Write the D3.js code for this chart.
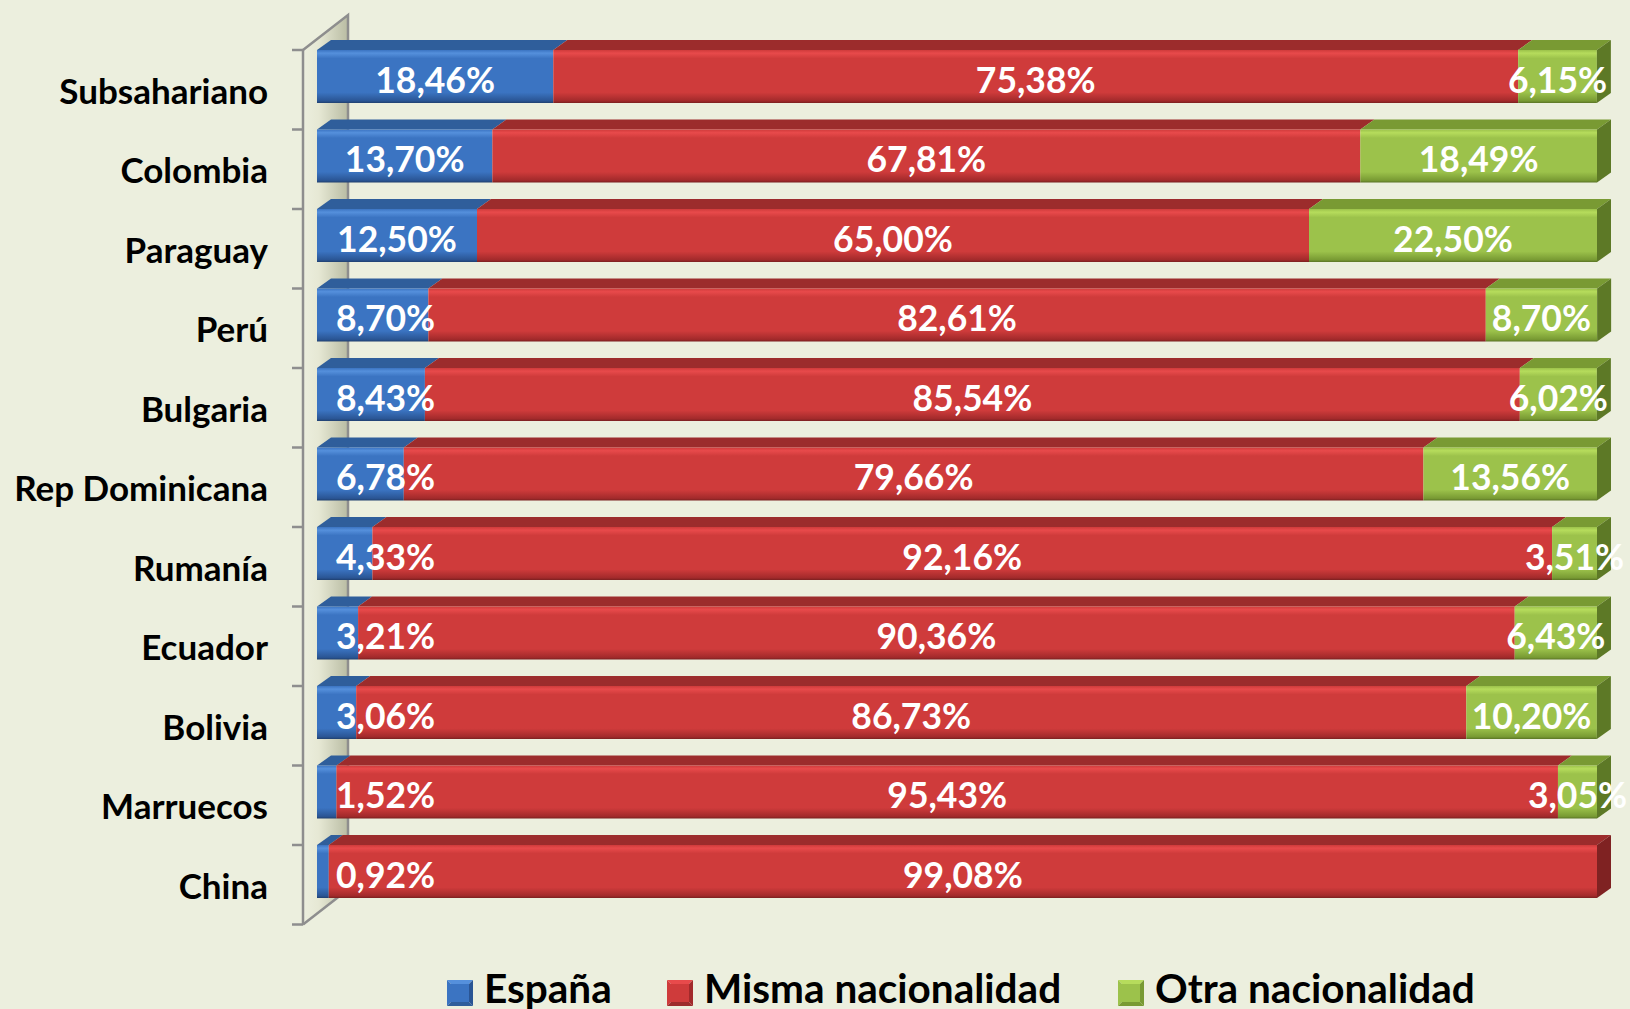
<!DOCTYPE html>
<html lang="es">
<head>
<meta charset="UTF-8">
<title>Nacionalidad de la pareja</title>
<script src="https://d3js.org/d3.v7.min.js"></script>
<style>
    body { margin: 0; background: #ECEFDE; }
    svg { display: block; font-family: Lato, "Open Sans", sans-serif; font-weight: 700; }
    .cat { font-size: 35px; fill: #000; }
    .val { font-size: 35.5px; fill: #fff; }
    .leg { font-size: 40.5px; fill: #000; }
</style>
</head>
<body>
<svg id="chart" width="1630" height="1009"></svg>
<script>
// data
const countries = ["Subsahariano", "Colombia", "Paraguay", "Perú", "Bulgaria", "Rep Dominicana",
    "Rumanía", "Ecuador", "Bolivia", "Marruecos", "China"];
const espana = [18.46, 13.70, 12.50, 8.70, 8.43, 6.78, 4.33, 3.21, 3.06, 1.52, 0.92];
const misma = [75.38, 67.81, 65.00, 82.61, 85.54, 79.66, 92.16, 90.36, 86.73, 95.43, 99.08];
const otra = [6.15, 18.49, 22.50, 8.70, 6.02, 13.56, 3.51, 6.43, 10.20, 3.05, 0];
const seriesNames = ["España", "Misma nacionalidad", "Otra nacionalidad"];

const palette = [
    { hi: "#5590dc", base: "#3b74c2", low: "#2a5594", top: "#2f5e9b", side: "#264c80" },
    { hi: "#e84a4b", base: "#cf3b3b", low: "#a22a2b", top: "#9c2c2c", side: "#7f2222" },
    { hi: "#b6dc5c", base: "#9cc24b", low: "#789a33", top: "#799a33", side: "#5d7926" }
];

const svg = d3.select("#chart");
const depth = { dx: 14, dy: 10 };
const barH = 53;

const x = d3.scaleLinear().domain([0, 100]).range([317, 1597]);
const y = d3.scaleBand().domain(countries).range([50, 924.5]).paddingInner(0);

const loc = d3.formatLocale({ decimal: ",", thousands: ".", grouping: [3], currency: ["", "€"] });
const fmt = v => loc.format(".2f")(v) + "%";

const defs = svg.append("defs");
palette.forEach((c, i) => {
    let g = defs.append("linearGradient").attr("id", "front" + i)
        .attr("x1", 0).attr("y1", 0).attr("x2", 0).attr("y2", 1);
    g.append("stop").attr("offset", "0%").attr("stop-color", c.base);
    g.append("stop").attr("offset", "6%").attr("stop-color", c.hi);
    g.append("stop").attr("offset", "16%").attr("stop-color", c.base);
    g.append("stop").attr("offset", "80%").attr("stop-color", c.base);
    g.append("stop").attr("offset", "96%").attr("stop-color", c.low);
    g.append("stop").attr("offset", "100%").attr("stop-color", d3.color(c.low).darker(0.8));
});
let wallGrad = defs.append("linearGradient").attr("id", "wall")
    .attr("x1", 0).attr("y1", 0).attr("x2", 1).attr("y2", 0);
wallGrad.append("stop").attr("offset", "0%").attr("stop-color", "#ECEFDE");
wallGrad.append("stop").attr("offset", "35%").attr("stop-color", "#e6e8d4");
wallGrad.append("stop").attr("offset", "100%").attr("stop-color", "#b9bca3");

// left wall (3D)
const ax0 = 303, ax1 = 348, ay = 35;
const yTop = y.range()[0], yBot = y.range()[1];
svg.append("path")
    .attr("d", `M${ax0},${yTop}L${ax1},${yTop - ay}L${ax1},${yBot - ay}L${ax0},${yBot}Z`)
    .attr("fill", "url(#wall)");
const axisG = svg.append("g").attr("stroke", "#8e8e8e").attr("stroke-width", 2.5).attr("fill", "none");
axisG.append("path").attr("d", `M${ax0},${yTop}L${ax1},${yTop - ay}L${ax1},${yBot - ay}`);
axisG.append("path").attr("d", `M${ax0},${yBot}L${ax1},${yBot - ay}`);
axisG.append("path").attr("d", `M${ax0},${yTop}L${ax0},${yBot}`);
const ticks = countries.map(c => y(c)).concat([yBot]);
axisG.selectAll("line.tick").data(ticks).join("line")
    .attr("x1", ax0 - 11).attr("x2", ax0).attr("y1", d => d).attr("y2", d => d);

// category labels
svg.selectAll("text.cat").data(countries).join("text")
    .attr("class", "cat")
    .attr("x", 268)
    .attr("y", d => y(d) + y.bandwidth() / 2 + 14)
    .attr("text-anchor", "end")
    .text(d => d);

// stacked 3D bars
const rows = countries.map((c, i) => {
    let vals = [espana[i], misma[i], otra[i]];
    let acc = 0;
    let segs = vals.map((v, k) => { let s = { k, v, x0: acc, x1: acc + v }; acc += v; return s; })
        .filter(s => s.v > 0);
    return { c, segs };
});

const bars = svg.append("g");
rows.forEach(r => {
    let yt = y(r.c), yb = yt + barH;
    let g = bars.append("g");
    r.segs.forEach((s, j) => {
        let a = x(s.x0), b = x(s.x1);
        let c = palette[s.k];
        g.append("path")
            .attr("d", `M${a},${yt}L${a + depth.dx},${yt - depth.dy}L${b + depth.dx},${yt - depth.dy}L${b},${yt}Z`)
            .attr("fill", c.top);
        g.append("rect").attr("x", a).attr("y", yt).attr("width", b - a).attr("height", barH)
            .attr("fill", `url(#front${s.k})`);
        if (j === r.segs.length - 1) {
            g.append("path")
                .attr("d", `M${b},${yt}L${b + depth.dx},${yt - depth.dy}L${b + depth.dx},${yb - depth.dy}L${b},${yb}Z`)
                .attr("fill", c.side);
        }
    });
});

// value labels
const labels = svg.append("g");
rows.forEach(r => {
    let cy = y(r.c) + barH / 2 + 16;
    r.segs.forEach(s => {
        let t = labels.append("text").attr("class", "val").attr("text-anchor", "middle")
            .attr("y", cy).text(fmt(s.v));
        let w = t.node().getComputedTextLength();
        let cx = x((s.x0 + s.x1) / 2);
        cx = Math.max(cx, x(0) + 19 + w / 2);
        t.attr("x", cx);
    });
});

// legend
const legItems = [
    { name: seriesNames[0], k: 0, mx: 447, tx: 484 },
    { name: seriesNames[1], k: 1, mx: 667, tx: 704 },
    { name: seriesNames[2], k: 2, mx: 1118, tx: 1155 }
];
const ly = 980, ms = 26;
const leg = svg.append("g");
legItems.forEach(it => {
    let c = palette[it.k];
    let m = leg.append("g").attr("transform", `translate(${it.mx},${ly})`);
    let cx = ms / 2;
    m.append("path").attr("d", `M0,0L${ms},0L${cx},${cx}Z`).attr("fill", c.hi);
    m.append("path").attr("d", `M0,0L0,${ms}L${cx},${cx}Z`).attr("fill", c.base);
    m.append("path").attr("d", `M${ms},0L${ms},${ms}L${cx},${cx}Z`).attr("fill", c.low);
    m.append("path").attr("d", `M0,${ms}L${ms},${ms}L${cx},${cx}Z`).attr("fill", c.top);
    m.append("rect").attr("x", 4).attr("y", 4).attr("width", ms - 8).attr("height", ms - 8).attr("fill", c.base);
    leg.append("text").attr("class", "leg").attr("x", it.tx).attr("y", 1003).text(it.name);
});
</script>
</body>
</html>
